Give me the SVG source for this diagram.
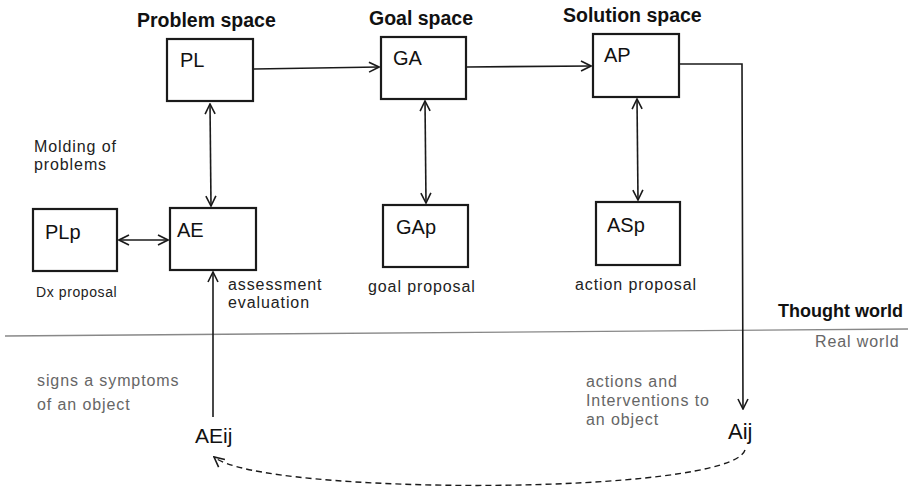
<svg xmlns="http://www.w3.org/2000/svg" width="908" height="489" viewBox="0 0 908 489">
  <style>
    .box { fill: #ffffff; stroke: #1a1a1a; stroke-width: 2.2; }
    .lbl { font-family: "Liberation Sans", Arial, sans-serif; font-size: 20px; fill: #111; }
    .title { font-family: "Liberation Sans", Arial, sans-serif; font-size: 19.5px; font-weight: bold; fill: #111; }
    .note { font-family: "Liberation Sans", Arial, sans-serif; font-size: 16px; letter-spacing: 0.9px; fill: #222; }
    .soft { font-family: "Liberation Sans", Arial, sans-serif; font-size: 16px; letter-spacing: 0.9px; fill: #666; }
    .line { fill: none; stroke: #1a1a1a; stroke-width: 1.6; }
    .dash { fill: none; stroke: #1a1a1a; stroke-width: 1.4; stroke-dasharray: 6 4; }
  </style>
  <defs>
    <marker id="arr" viewBox="0 0 12 12" refX="11" refY="6" markerWidth="12" markerHeight="12" markerUnits="userSpaceOnUse" orient="auto-start-reverse">
      <path d="M1,1 L11,6 L1,11" fill="none" stroke="#1a1a1a" stroke-width="1.6"/>
    </marker>
  </defs>

  <!-- column headings -->
  <text class="title" x="137" y="27">Problem space</text>
  <text class="title" x="369" y="25">Goal space</text>
  <text class="title" x="563" y="22">Solution space</text>

  <!-- thought world / real world boundary -->
  <line x1="5" y1="336" x2="908" y2="329" stroke="#888" stroke-width="1.4"/>
  <text class="title" x="778" y="317" style="font-size:18px">Thought world</text>
  <text class="soft" x="815" y="347">Real world</text>

  <!-- nodes -->
  <g id="PL">
    <rect class="box" x="167" y="39" width="86" height="62"/>
    <text class="lbl" x="180" y="67">PL</text>
  </g>
  <g id="GA">
    <rect class="box" x="381" y="37" width="85" height="62"/>
    <text class="lbl" x="393" y="65">GA</text>
  </g>
  <g id="AP">
    <rect class="box" x="593" y="34" width="86" height="63"/>
    <text class="lbl" x="604" y="62">AP</text>
  </g>
  <g id="PLp">
    <rect class="box" x="33" y="209" width="84" height="62"/>
    <text class="lbl" x="45" y="239">PLp</text>
    <text class="note" x="36" y="297" style="font-size:14px;letter-spacing:0.6px">Dx proposal</text>
  </g>
  <g id="AE">
    <rect class="box" x="170" y="208" width="86" height="62"/>
    <text class="lbl" x="177" y="237">AE</text>
    <text class="note" x="228" y="290">assessment</text>
    <text class="note" x="228" y="308">evaluation</text>
  </g>
  <g id="GAp">
    <rect class="box" x="383" y="205" width="85" height="62"/>
    <text class="lbl" x="396" y="234">GAp</text>
    <text class="note" x="368" y="292">goal proposal</text>
  </g>
  <g id="ASp">
    <rect class="box" x="596" y="202" width="84" height="63"/>
    <text class="lbl" x="607" y="232">ASp</text>
    <text class="note" x="575" y="290">action proposal</text>
  </g>
  <g id="molding">
    <text class="note" x="34" y="152">Molding of</text>
    <text class="note" x="34" y="170">problems</text>
  </g>
  <g id="AEij">
    <text class="lbl" x="195" y="443" style="font-size:21px">AEij</text>
    <text class="soft" x="37" y="386">signs a symptoms</text>
    <text class="soft" x="37" y="410">of an object</text>
  </g>
  <g id="Aij">
    <text class="lbl" x="728" y="439" style="font-size:22px">Aij</text>
    <text class="soft" x="586" y="387">actions and</text>
    <text class="soft" x="586" y="406">Interventions to</text>
    <text class="soft" x="586" y="425">an object</text>
  </g>

  <!-- connectors -->
  <g id="connectors">
    <line class="line" x1="254" y1="69" x2="379" y2="67" marker-end="url(#arr)"/>
    <line class="line" x1="467" y1="67" x2="591" y2="66" marker-end="url(#arr)"/>
    <polyline class="line" points="680,64 742,64 743,409" marker-end="url(#arr)"/>
    <line class="line" x1="210" y1="104" x2="211" y2="206" marker-start="url(#arr)" marker-end="url(#arr)"/>
    <line class="line" x1="425" y1="101" x2="426" y2="203" marker-start="url(#arr)" marker-end="url(#arr)"/>
    <line class="line" x1="637" y1="99" x2="638" y2="200" marker-start="url(#arr)" marker-end="url(#arr)"/>
    <line class="line" x1="119" y1="240" x2="168" y2="240" marker-start="url(#arr)" marker-end="url(#arr)"/>
    <line class="line" x1="213" y1="417" x2="213" y2="272" marker-end="url(#arr)"/>
    <path class="dash" d="M745,450 C730,496 262,496 214,457" marker-end="url(#arr)"/>
  </g>
</svg>
